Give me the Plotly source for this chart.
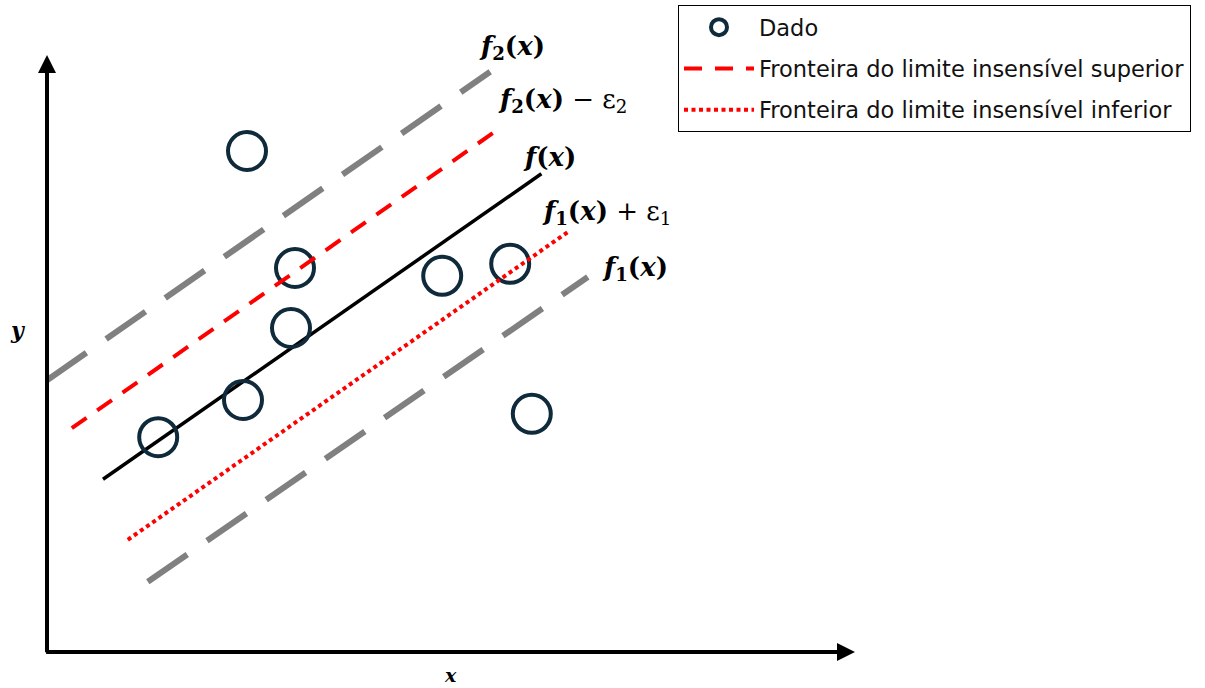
import plotly.graph_objects as go

# ---- data (diagram units: origin at axes crossing) ----
pts_x = [2.50, 3.10, 3.05, 2.45, 1.39, 4.94, 5.79, 6.06]
pts_y = [8.35, 6.40, 5.40, 4.20, 3.58, 6.27, 6.47, 3.97]

f2_x = [0.00, 5.54]
f2_y = [4.53, 9.67]
sup_x = [0.31, 5.66]
sup_y = [3.73, 8.73]
f_x = [0.70, 6.18]
f_y = [2.88, 7.97]
inf_x = [1.01, 6.51]
inf_y = [1.87, 7.00]
f1_x = [1.26, 6.76]
f1_y = [1.17, 6.25]

x_axis_end = 10.1
y_axis_end = 9.95

legend_names = ["Dado",
                "Fronteira do limite insensível superior",
                "Fronteira do limite insensível inferior"]

label_texts = ["<b><i>f</i><sub>2</sub>(<i>x</i>)</b>",
               "<b><i>f</i><sub>2</sub>(<i>x</i>)</b> − ε<sub>2</sub>",
               "<b><i>f</i>(<i>x</i>)</b>",
               "<b><i>f</i><sub>1</sub>(<i>x</i>)</b> + ε<sub>1</sub>",
               "<b><i>f</i><sub>1</sub>(<i>x</i>)</b>"]
label_x = [5.37, 5.61, 5.93, 6.16, 6.91]
label_y = [10.08, 9.20, 8.25, 7.33, 6.40]

GREY = "#808080"
RED = "#ff0000"
NAVY = "#0f2a3a"

fig = go.Figure()

fig.add_trace(go.Scatter(x=f2_x, y=f2_y, mode="lines", showlegend=False,
                         line=dict(color=GREY, width=6, dash="48px,24px")))
fig.add_trace(go.Scatter(x=f1_x, y=f1_y, mode="lines", showlegend=False,
                         line=dict(color=GREY, width=6, dash="48px,24px")))
fig.add_trace(go.Scatter(x=f_x, y=f_y, mode="lines", showlegend=False,
                         line=dict(color="black", width=3.5)))

fig.add_trace(go.Scatter(x=pts_x, y=pts_y, mode="markers", name=legend_names[0],
                         legendgroup="a",
                         marker=dict(symbol="circle-open", size=38, color=NAVY,
                                     line=dict(width=4, color=NAVY))))
fig.add_trace(go.Scatter(x=sup_x, y=sup_y, mode="lines", name=legend_names[1],
                         legendgroup="b",
                         line=dict(color=RED, width=4, dash="18px,13px")))
fig.add_trace(go.Scatter(x=inf_x, y=inf_y, mode="lines", name=legend_names[2],
                         legendgroup="c",
                         line=dict(color=RED, width=4, dash="4px,3.5px")))

# axes arrows
fig.add_annotation(x=x_axis_end, y=0, ax=-0.03, ay=0, xref="x", yref="y",
                   axref="x", ayref="y", text="", showarrow=True,
                   arrowhead=2, arrowsize=0.9, arrowwidth=4, arrowcolor="black",
                   standoff=0, startstandoff=0)
fig.add_annotation(x=0, y=y_axis_end, ax=0, ay=-0.03, xref="x", yref="y",
                   axref="x", ayref="y", text="", showarrow=True,
                   arrowhead=2, arrowsize=0.9, arrowwidth=4, arrowcolor="black",
                   standoff=0, startstandoff=0)

serif = "DejaVu Serif"
fig.add_annotation(x=-0.36, y=5.37, text="<b><i>y</i></b>", showarrow=False,
                   font=dict(family=serif, size=22, color="black"))
fig.add_annotation(x=5.04, y=-0.38, text="<b><i>x</i></b>", showarrow=False,
                   font=dict(family=serif, size=19, color="black"))

for t, lx, ly in zip(label_texts, label_x, label_y):
    fig.add_annotation(x=lx, y=ly, text=t, showarrow=False, xanchor="left",
                       font=dict(family=serif, size=26, color="black"))

fig.update_layout(
    width=1205, height=688,
    margin=dict(l=0, r=0, t=0, b=0),
    paper_bgcolor="white", plot_bgcolor="white",
    xaxis=dict(range=[-47/80, (1205-47)/80], visible=False, fixedrange=True),
    yaxis=dict(range=[(652-688)/60, 652/60], visible=False, fixedrange=True),
    showlegend=True,
    legend=dict(x=678/1205, y=1-5/688, xanchor="left", yanchor="top",
                bordercolor="black", borderwidth=1, bgcolor="white",
                font=dict(family="DejaVu Sans", size=22.5, color="#111"),
                traceorder="grouped", tracegroupgap=9,
                itemwidth=70),
)

fig.write_html("out.html")
